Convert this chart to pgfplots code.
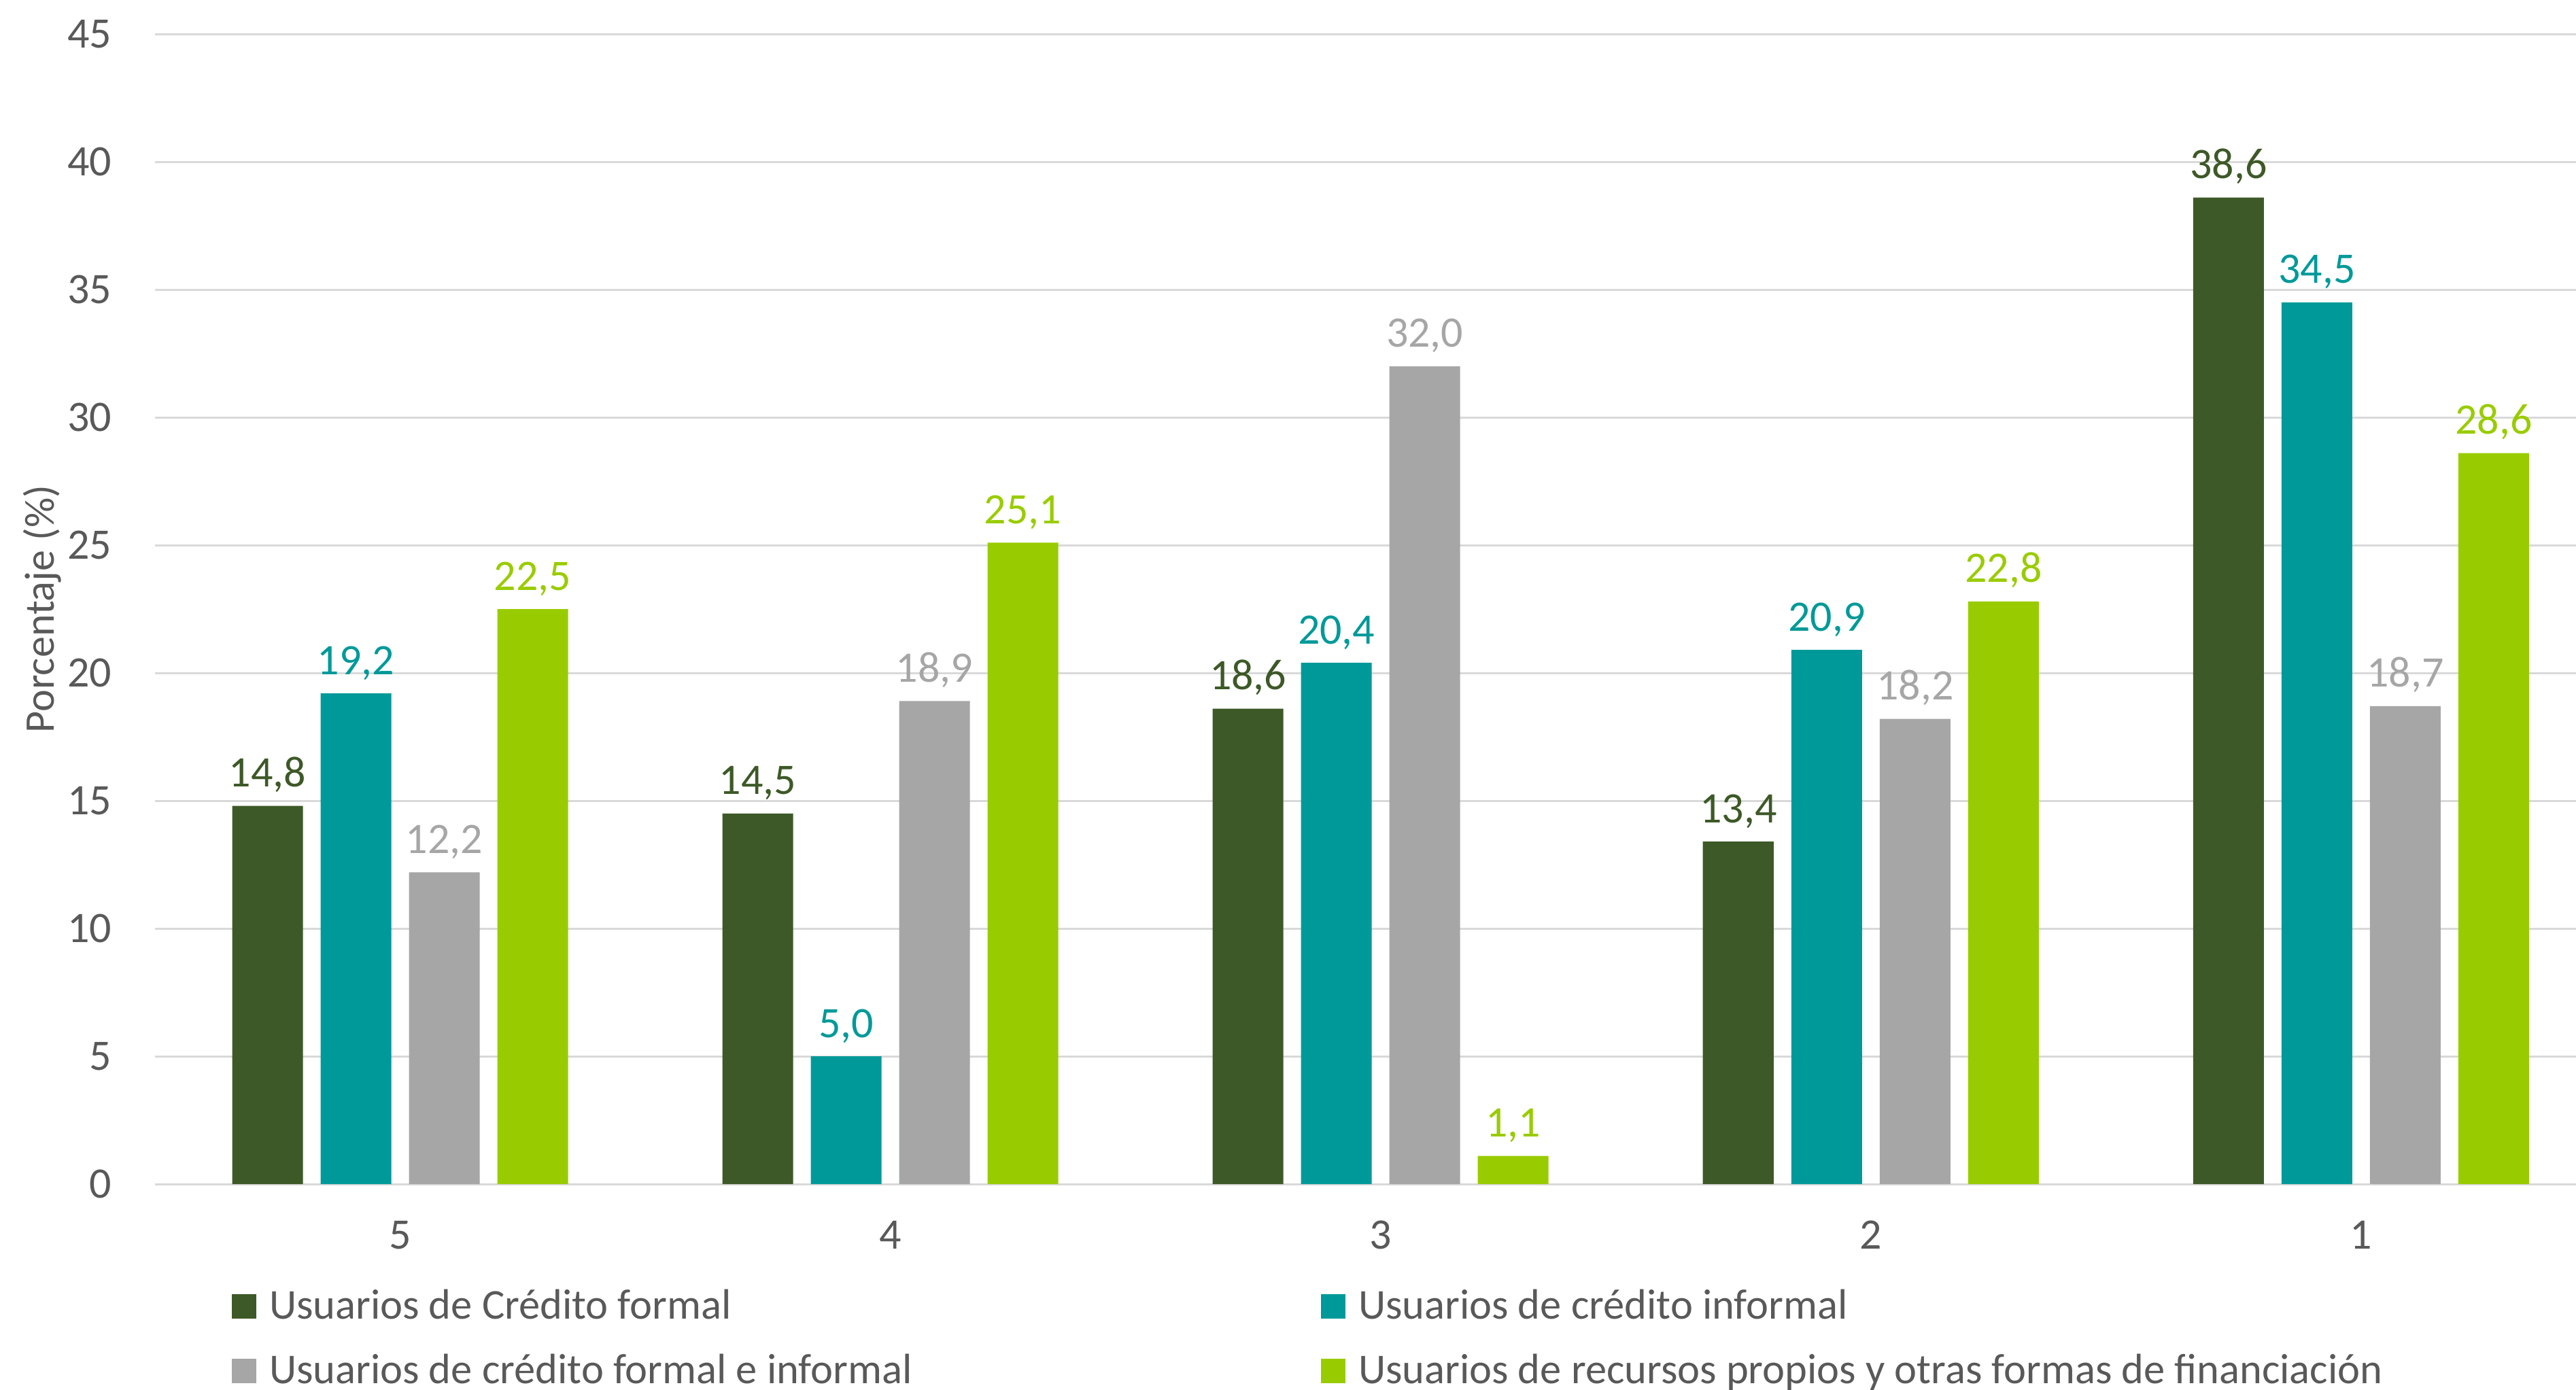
\documentclass[border=0pt]{standalone}
\usepackage{fontspec}
\setmainfont{Carlito}
\usepackage{pgfplots}
\pgfplotsset{compat=1.18}
\definecolor{cA}{HTML}{3D5927}
\definecolor{cB}{HTML}{009999}
\definecolor{cC}{HTML}{A6A6A6}
\definecolor{cD}{HTML}{99CC00}
\definecolor{textc}{HTML}{595959}
\definecolor{gridc}{HTML}{D9D9D9}
\begin{document}
\begin{tikzpicture}
\useasboundingbox (-22.8pt,-30.2pt) rectangle (356.1pt,174.2pt);
\begin{axis}[
  at={(0,0)}, anchor=south west,
  scale only axis, width=356.2pt, height=169.2pt,
  ybar=2.6pt, bar width=10.4pt,
  xmin=-0.5, xmax=4.44, ymin=0, ymax=45,
  xtick={0,1,2,3,4}, xticklabels={5,4,3,2,1},
  ytick={0,5,...,45},
  ymajorgrids, grid style={draw=gridc, line width=0.3pt},
  axis line style={draw=none},
  tick style={draw=none}, major tick length=0pt,
  tick label style={font=\fontsize{6.4}{7.7}\selectfont, text=textc},
  /pgf/number format/assume math mode=true,
  yticklabel style={inner sep=0pt, anchor=east, xshift=-6.2pt},
  xticklabel style={inner sep=0pt, anchor=north, yshift=-5.2pt},
  ylabel={Porcentaje (\%)},
  every axis y label/.style={at={(axis description cs:-0.0466,0.5)}, rotate=90, anchor=center, font=\fontsize{6.2}{7.4}\selectfont, text=textc},
  nodes near coords={\pgfmathprintnumber[fixed,fixed zerofill,precision=1,use comma]{\pgfplotspointmeta}},
  every node near coord/.append style={anchor=base, inner sep=0pt, yshift=2.8pt, font=\fontsize{6.4}{7.7}\selectfont},
  legend columns=2,
  legend cell align=left,
  legend image code/.code={\fill[#1] (0pt,0pt) rectangle (3.6pt,3.6pt);},
  legend style={at={(axis description cs:0,0)}, anchor=north west, xshift=11.3pt, yshift=-15.1pt,
    draw=none, fill=none, inner sep=0pt, outer sep=0pt,
    font=\fontsize{6.25}{7.5}\selectfont, text=textc,
    nodes={inner sep=0pt, text height=4.7pt, text depth=1.3pt, anchor=base west},
    row sep=3.5pt,
    /tikz/every odd column/.append style={column sep=1.9pt},
    /tikz/every even column/.append style={column sep=0pt}},
]
\addplot[fill=cA, draw=none, every node near coord/.append style={text=cA}] coordinates {(0,14.8) (1,14.5) (2,18.6) (3,13.4) (4,38.6)};
\addplot[fill=cB, draw=none, every node near coord/.append style={text=cB}] coordinates {(0,19.2) (1,5.0) (2,20.4) (3,20.9) (4,34.5)};
\addplot[fill=cC, draw=none, every node near coord/.append style={text=cC}] coordinates {(0,12.2) (1,18.9) (2,32.0) (3,18.2) (4,18.7)};
\addplot[fill=cD, draw=none, every node near coord/.append style={text=cD}] coordinates {(0,22.5) (1,25.1) (2,1.1) (3,22.8) (4,28.6)};
\legend{\makebox[154.7pt][l]{Usuarios de Crédito formal}, Usuarios de crédito informal, \makebox[154.7pt][l]{Usuarios de crédito formal e informal}, Usuarios de recursos propios y otras formas de financiación}
\end{axis}
\end{tikzpicture}
\end{document}
